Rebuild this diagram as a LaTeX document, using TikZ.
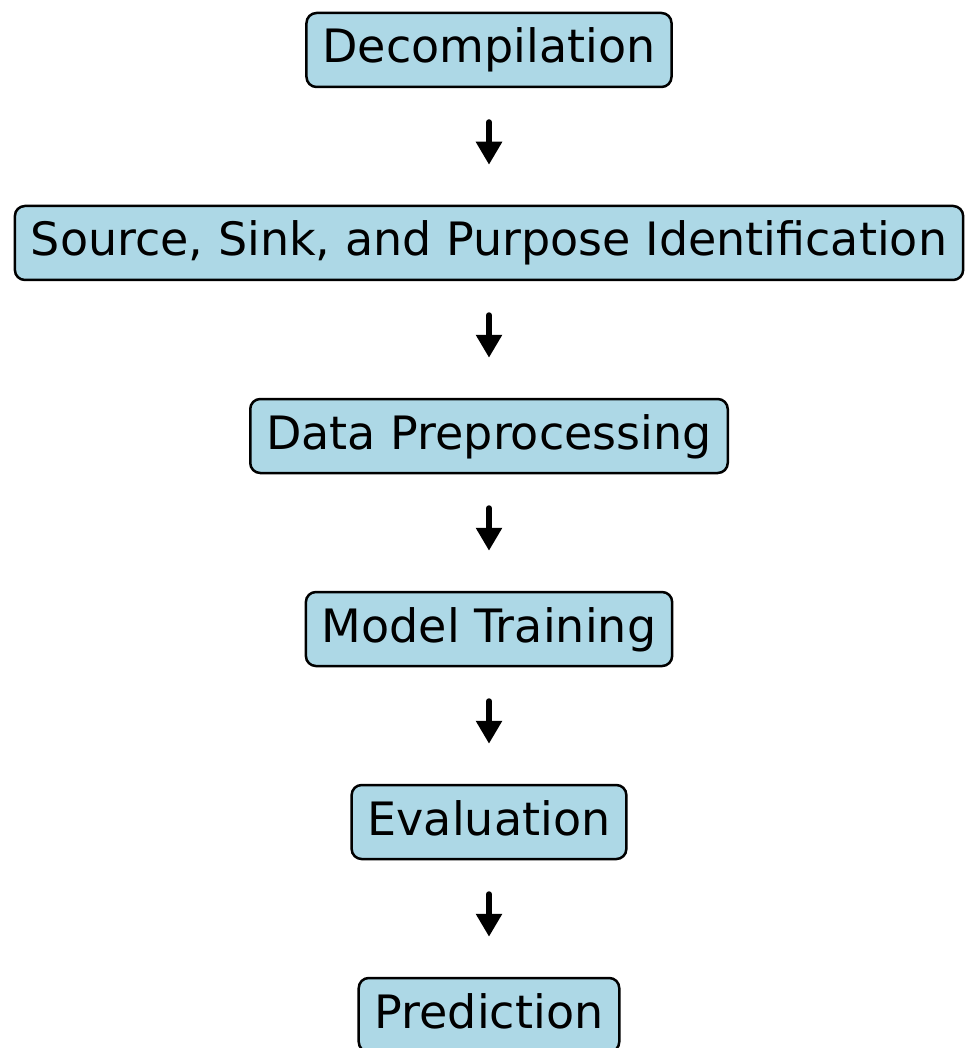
\documentclass[tikz,border=0pt]{standalone}
\usepackage{fontspec}
\setmainfont{DejaVu Sans}
\usetikzlibrary{arrows.meta}
\definecolor{stagefill}{RGB}{173,216,230}
\tikzset{
  stage/.style={draw=black, fill=stagefill, line width=2.5pt, rounded corners=10pt,
    font=\fontsize{46}{55}\selectfont, text height=35pt, text depth=9pt,
    minimum height=74pt, inner xsep=16pt, inner ysep=0pt},
  flow/.style={line width=6pt, line cap=round, -{Triangle[width=25pt,length=23pt]},
    shorten <=34pt, shorten >=40pt}
}
\begin{document}
\begin{tikzpicture}[x=1pt,y=1pt]
			\useasboundingbox (0,-1048) rectangle (964,0);
			% pipeline stages, top to bottom
			\foreach \name/\txt [count=\i] in {decomp/Decompilation,
				ident/{Source, Sink, and Purpose Identification},
				prep/Data Preprocessing, train/Model Training,
				eval/Evaluation, pred/Prediction}{
				\node[stage] (\name) at (489,{-50-193*(\i-1)}) {\txt};
			}
			\foreach \a/\b in {decomp/ident, ident/prep, prep/train, train/eval, eval/pred}{
				\draw[flow] (\a) -- (\b);
			}
		\end{tikzpicture}
\end{document}
